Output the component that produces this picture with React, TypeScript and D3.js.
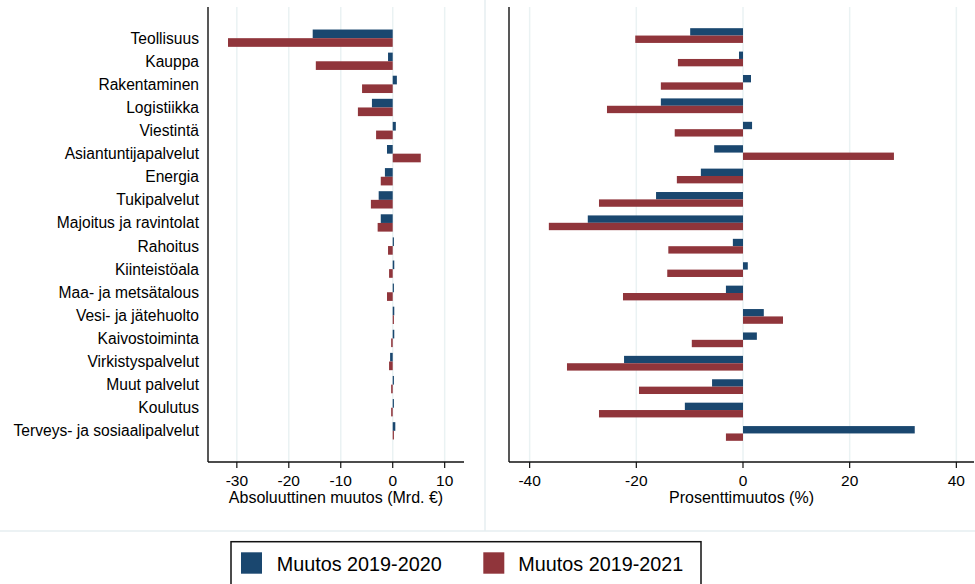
import * as d3 from "d3";

const width = 975;
const height = 584;
const font = "'Liberation Sans', Arial, sans-serif";

const categories = [
  "Teollisuus",
  "Kauppa",
  "Rakentaminen",
  "Logistiikka",
  "Viestintä",
  "Asiantuntijapalvelut",
  "Energia",
  "Tukipalvelut",
  "Majoitus ja ravintolat",
  "Rahoitus",
  "Kiinteistöala",
  "Maa- ja metsätalous",
  "Vesi- ja jätehuolto",
  "Kaivostoiminta",
  "Virkistyspalvelut",
  "Muut palvelut",
  "Koulutus",
  "Terveys- ja sosiaalipalvelut",
];

// absolute change, bn €
const abs2020 = [-15.4, -0.9, 0.8, -4.0, 0.6, -1.1, -1.5, -2.7, -2.3, 0.2, 0.3, 0.2, 0.3, 0.3, -0.5, 0.2, 0.2, 0.5];
const abs2021 = [-31.7, -14.8, -5.9, -6.7, -3.2, 5.4, -2.3, -4.2, -2.9, -0.9, -0.7, -1.1, 0.2, -0.3, -0.7, -0.3, -0.3, 0.2];

// percentage change
const pct2020 = [-9.9, -0.75, 1.5, -15.4, 1.7, -5.4, -7.9, -16.3, -29.1, -1.9, 0.9, -3.2, 3.9, 2.6, -22.3, -5.8, -10.9, 32.2];
const pct2021 = [-20.2, -12.2, -15.4, -25.5, -12.8, 28.3, -12.4, -27.0, -36.4, -14.0, -14.2, -22.5, 7.5, -9.6, -33.0, -19.5, -27.0, -3.2];

const absTicks = [-30, -20, -10, 0, 10];
const pctTicks = [-40, -20, 0, 20, 40];

const seriesNames = ["Muutos 2019-2020", "Muutos 2019-2021"];
const colors = ["#1a476f", "#90353b"];
const gridColor = "#eaf2f3";

const plotTop = 7;
const plotBottom = 462;

type PanelProps = {
  left: number;
  right: number;
  domain: [number, number];
  ticks: number[];
  a: number[];
  b: number[];
  title: string;
  paddingInner: number;
  paddingOuter: number;
  showLabels: boolean;
};

const Panel = ({ left, right, domain, ticks, a, b, title, paddingInner, paddingOuter, showLabels }: PanelProps) => {
  const x = d3.scaleLinear().domain(domain).range([left, right]);
  const y = d3
    .scaleBand<string>()
    .domain(categories)
    .range([plotTop, plotBottom])
    .paddingInner(paddingInner)
    .paddingOuter(paddingOuter);
  const inner = d3.scaleBand<number>().domain([0, 1]).range([0, y.bandwidth()]);
  const series = [a, b];

  return (
    <g>
      {ticks.map((t) => (
        <line key={"g" + t} x1={x(t)} x2={x(t)} y1={plotTop} y2={plotBottom} stroke={gridColor} strokeWidth={1.5} />
      ))}
      {categories.map((c, i) => (
        <g key={c}>
          {series.map((s, k) => {
            const v = s[i];
            const x0 = Math.min(x(0), x(v));
            const w = Math.max(Math.abs(x(v) - x(0)), 1.2);
            return (
              <rect
                key={k}
                x={v >= 0 ? x(0) : x0}
                y={(y(c) as number) + (inner(k) as number)}
                width={w}
                height={inner.bandwidth()}
                fill={colors[k]}
              />
            );
          })}
          {showLabels && (
            <text
              x={199}
              y={(y(c) as number) + y.bandwidth() / 2}
              dy="0.35em"
              textAnchor="end"
              fontSize={15.6}
              fontFamily={font}
              fill="#000"
            >
              {c}
            </text>
          )}
        </g>
      ))}
      <line x1={left} x2={left} y1={plotTop} y2={plotBottom} stroke="#111" strokeWidth={1.4} />
      <line x1={left} x2={right} y1={plotBottom} y2={plotBottom} stroke="#111" strokeWidth={1.4} />
      {ticks.map((t) => (
        <g key={"t" + t}>
          <line x1={x(t)} x2={x(t)} y1={plotBottom} y2={plotBottom + 6} stroke="#111" strokeWidth={1.2} />
          <text x={x(t)} y={485.5} textAnchor="middle" fontSize={15.5} fontFamily={font} fill="#000">
            {t < 0 ? "-" + Math.abs(t) : t}
          </text>
        </g>
      ))}
      <text x={(left + right) / 2} y={502.5} textAnchor="middle" fontSize={16} fontFamily={font} fill="#000">
        {title}
      </text>
    </g>
  );
};

export default function App() {
  return (
    <svg
      width={width}
      height={height}
      viewBox={`0 0 ${width} ${height}`}
      style={{ position: "absolute", left: 0, top: 0, background: "#fff" }}
    >
      <rect x={0} y={0} width={width} height={height} fill="#fff" />
      <line x1={485} x2={485} y1={0} y2={531} stroke="#e6eef0" strokeWidth={1.5} />
      <line x1={0} x2={width} y1={531} y2={531} stroke="#e6eef0" strokeWidth={1.5} />
      <Panel
        left={208}
        right={464}
        domain={[-35.55, 13.72]}
        ticks={absTicks}
        a={abs2020}
        b={abs2021}
        title="Absoluuttinen muutos (Mrd. €)"
        paddingInner={0.25}
        paddingOuter={0.975}
        showLabels={true}
      />
      <Panel
        left={509}
        right={974}
        domain={[-43.87, 43.31]}
        ticks={pctTicks}
        a={pct2020}
        b={pct2021}
        title="Prosenttimuutos (%)"
        paddingInner={0.37}
        paddingOuter={0.905}
        showLabels={false}
      />
      <rect x={231} y={541.7} width={470} height={60} fill="#fff" stroke="#111" strokeWidth={1.5} />
      {seriesNames.map((n, k) => (
        <g key={n}>
          <rect x={k === 0 ? 241 : 483.3} y={552.3} width={21} height={21.4} fill={colors[k]} />
          <text x={k === 0 ? 276.7 : 518.3} y={570.7} fontSize={19.8} fontFamily={font} fill="#000">
            {n}
          </text>
        </g>
      ))}
    </svg>
  );
}
